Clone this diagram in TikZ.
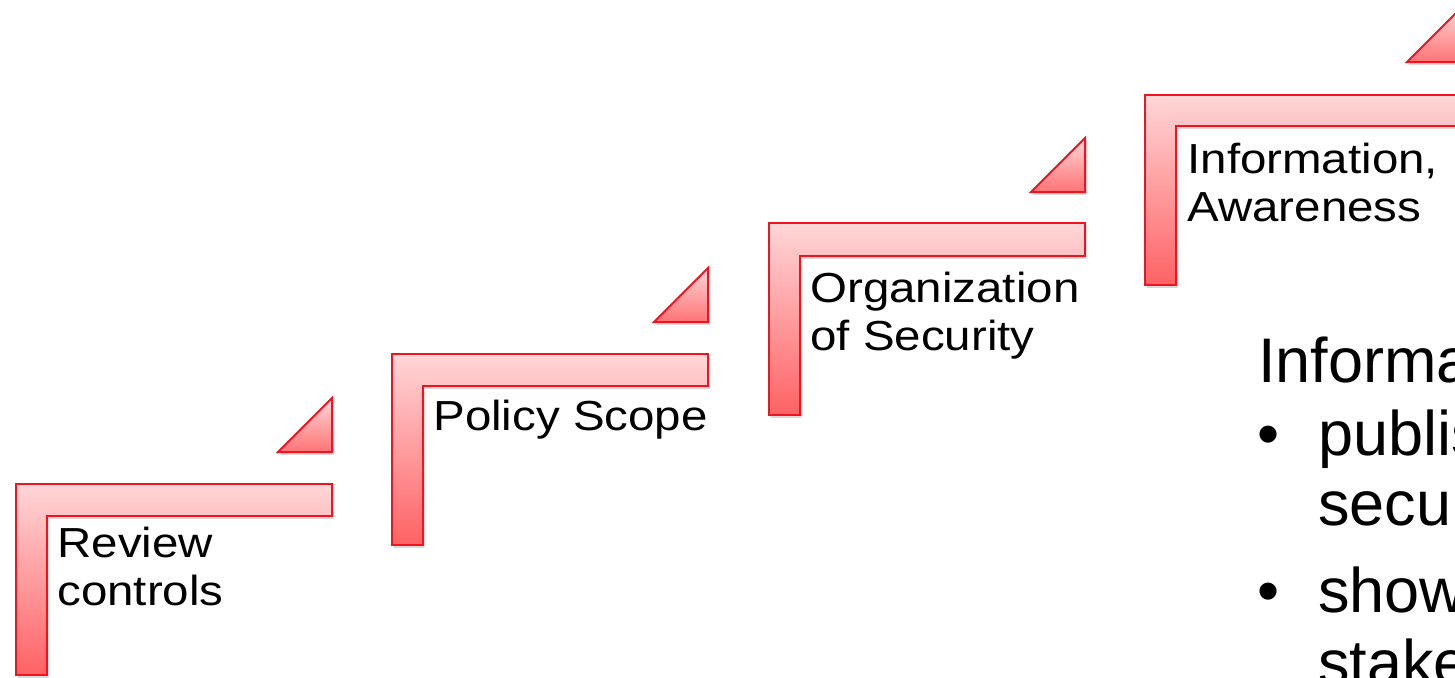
\documentclass[tikz,border=0pt]{standalone}
\usepackage{fontspec}
\setmainfont{Liberation Sans}
\newfontfamily\stepfont[FakeStretch=1.13]{Liberation Sans}
\usetikzlibrary{shadows}

\definecolor{stepline}{RGB}{240,20,30}
\definecolor{steptop}{RGB}{255,214,216}
\definecolor{stepbottom}{RGB}{255,98,100}

\begin{document}
\begin{tikzpicture}[x=0.5pt,y=0.5pt,yscale=-1,xscale=1,
  stepbar/.style={draw=stepline,line width=1pt,top color=steptop,bottom color=stepbottom,
    drop shadow={opacity=0.3,shadow xshift=0.8pt,shadow yshift=-1.4pt}},
  stepwedge/.style={draw=stepline,line width=1pt,top color=steptop,bottom color=stepbottom!85!steptop,
    drop shadow={opacity=0.3,shadow xshift=0.8pt,shadow yshift=-1.4pt}},
  steplabel/.style={anchor=base west,inner sep=0pt,align=left,
    font=\stepfont\fontsize{21pt}{24pt}\selectfont},
  infotext/.style={anchor=base west,inner sep=0pt,font=\fontsize{31.5pt}{35pt}\selectfont}]
%set diagram to the 1455 x 677 frame
\path[use as bounding box] (0,0) rectangle (1455,677);
\clip (0,0) rectangle (1455,677);

%Shape: Step 1
\draw[stepbar] (16,484) -- (332,484) -- (332,516) -- (47,516) -- (47,675) -- (16,675) -- cycle;
\draw[stepwedge] (278,452) -- (332,452) -- (332,398) -- cycle;
%Shape: Step 2
\draw[stepbar] (392,354) -- (708,354) -- (708,386) -- (423,386) -- (423,545) -- (392,545) -- cycle;
\draw[stepwedge] (654,322) -- (708,322) -- (708,268) -- cycle;
%Shape: Step 3
\draw[stepbar] (769,223) -- (1085,223) -- (1085,256) -- (800,256) -- (800,415) -- (769,415) -- cycle;
\draw[stepwedge] (1031,192) -- (1085,192) -- (1085,138) -- cycle;
%Shape: Step 4
\draw[stepbar] (1145,95) -- (1461,95) -- (1461,126) -- (1176,126) -- (1176,285) -- (1145,285) -- cycle;
\draw[stepwedge] (1407,62) -- (1461,62) -- (1461,8) -- cycle;

% Text Node (base is the last line)
\node[steplabel] (review) at (57,605) {Review\\controls};
% Text Node
\node[steplabel] (policy) at (433,430) {Policy Scope};
% Text Node
\node[steplabel] (organization) at (810,350) {Organization\\of Security};
% Text Node
\node[steplabel] (information) at (1187,221) {Information,\\Awareness};

% Text Node
\node[infotext] (infohead) at (1258,382) {Information};
\node[infotext] (bulletone) at (1257,455) {•};
\node[infotext] (publish) at (1318,455) {publish};
\node[infotext] (security) at (1318,525) {security};
\node[infotext] (bullettwo) at (1257,612) {•};
\node[infotext] (show) at (1318,612) {show};
\node[infotext] (stakeholders) at (1318,684) {stakeholders};

\end{tikzpicture}
\end{document}
